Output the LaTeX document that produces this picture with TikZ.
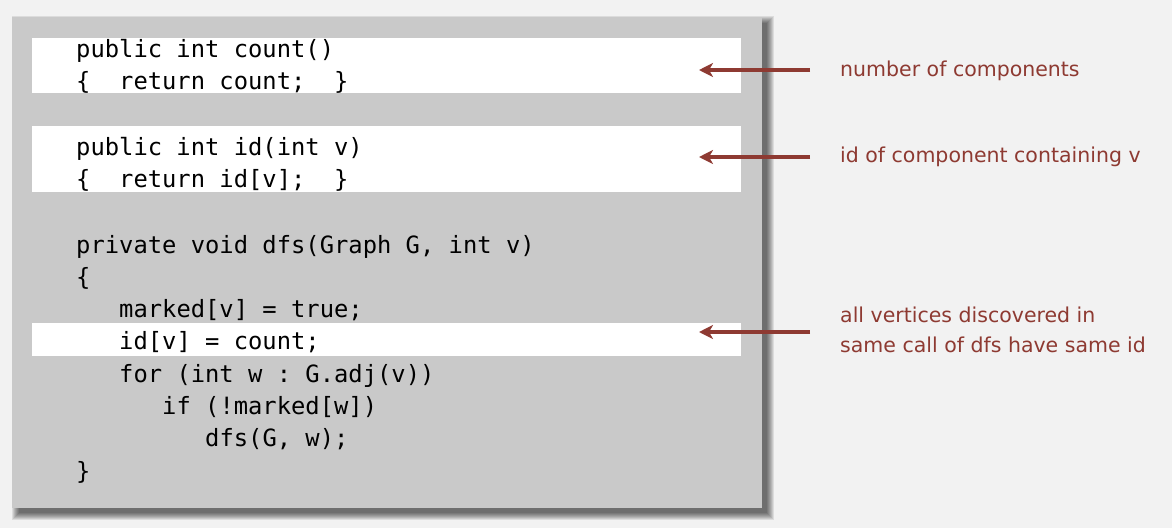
\documentclass[tikz,border=0pt]{standalone}
\usepackage{fontspec}
\setmainfont{DejaVu Sans}
\setmonofont{DejaVu Sans Mono}
\usetikzlibrary{arrows.meta}
\definecolor{bg}{HTML}{F2F2F2}
\definecolor{panel}{HTML}{C9C9C9}
\definecolor{note}{HTML}{8E3A32}
\begin{document}
\begin{tikzpicture}[x=1pt,y=-1pt,
  code/.style={anchor=base west, inner sep=0pt, font=\fontsize{23.8}{28}\ttfamily},
  lbl/.style={anchor=base west, inner sep=0pt, text=note, font=\fontsize{20.5}{30}\selectfont, align=left},
  pointer/.style={draw=note, line width=3.2pt, -{Stealth[length=14pt,width=14pt,inset=4pt]}},
  hl/.style={fill=white},
]
\useasboundingbox (0,0) rectangle (1172,528);
\fill[bg] (0,0) rectangle (1172,528);
% shadow
\foreach \d in {0,...,7}{
  \fill[black,opacity=0.09] (19-\d,23-\d) rectangle (767+\d,513+\d);
}
% panel
\fill[panel] (12,17) rectangle (762,508);
% highlight bars
\fill[hl] (32,38) rectangle (741,93);
\fill[hl] (32,126) rectangle (741,192);
\fill[hl] (32,323) rectangle (741,356);
% code
\node[code] (c1) at (76,57) {public int count()};
\node[code] (c2) at (76,89) {\{~~return count;~~\}};
\node[code] (c3) at (76,155) {public int id(int v)};
\node[code] (c4) at (76,187) {\{~~return id[v];~~\}};
\node[code] (c5) at (76,253) {private void dfs(Graph G, int v)};
\node[code] (c6) at (76,285.3) {\{};
\node[code] (c7) at (119,317.6) {marked[v] = true;};
\node[code] (c8) at (119,349.9) {id[v] = count;};
\node[code] (c9) at (119,382.2) {for (int w : G.adj(v))};
\node[code] (c10) at (162,414.5) {if (!marked[w])};
\node[code] (c11) at (205,446.8) {dfs(G, w);};
\node[code] (c12) at (76,479.1) {\}};
% labels
\node[lbl] (n1) at (840,76) {number of components};
\node[lbl] (n2) at (840,162) {id of component containing v};
\node[lbl] (n3a) at (840,322) {all vertices discovered in};
\node[lbl] (n3b) at (840,352) {same call of dfs have same id};
% arrows
\coordinate (s1) at (810,70);  \coordinate (t1) at (699,70);
\coordinate (s2) at (810,157); \coordinate (t2) at (699,157);
\coordinate (s3) at (810,332); \coordinate (t3) at (699,332);
\draw[pointer] (s1) -- (t1);
\draw[pointer] (s2) -- (t2);
\draw[pointer] (s3) -- (t3);
\end{tikzpicture}
\end{document}
